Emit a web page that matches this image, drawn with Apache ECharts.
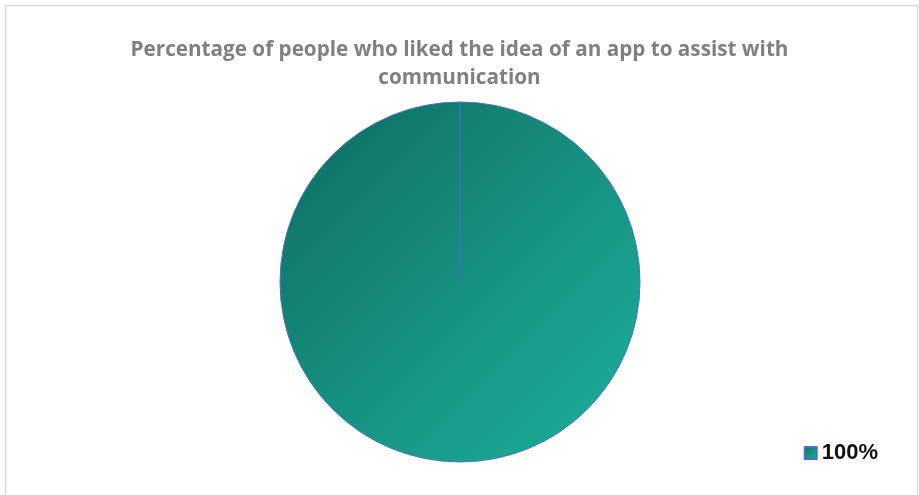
<!DOCTYPE html>
<html>
<head>
<meta charset="utf-8">
<script src="https://cdn.jsdelivr.net/npm/echarts@6/dist/echarts.min.js"></script>
<style>
html,body{margin:0;padding:0;background:#fff;}
#chart{width:919px;height:495px;}
</style>
</head>
<body>
<div id="chart"></div>
<script>
var titleText = 'Percentage of people who liked the idea of an app to assist with\ncommunication'
var categories = ['100%']
var values = [100]

var center = [460, 282]
var radius = 180

var chart = echarts.init(document.getElementById('chart'))
var option = {
    animation: false,
    title: {
        text: titleText,
        left: 'center',
        top: 31,
        textStyle: {
            color: '#808080',
            fontFamily: 'Open Sans',
            fontSize: 20.7,
            fontWeight: 'bold',
            lineHeight: 28
        }
    },
    legend: {
        data: categories,
        icon: 'rect',
        right: 36,
        top: 437,
        itemWidth: 12,
        itemHeight: 12,
        itemGap: 8,
        textStyle: {
            color: '#111',
            fontFamily: 'Liberation Sans',
            fontSize: 22,
            fontWeight: 'bold'
        }
    },
    graphic: [
        {
            type: 'rect',
            shape: {x: 5.5, y: 5.5, width: 912, height: 500},
            style: {fill: 'none', stroke: '#d9d9d9', lineWidth: 1.5},
            silent: true
        },
        {
            // slice edge from the centre to the top
            type: 'line',
            shape: {x1: center[0], y1: center[1], x2: center[0], y2: center[1] - radius},
            style: {stroke: '#3f6fc0', lineWidth: 1.5},
            z: 10
        }
    ],
    series: [
        {
            type: 'pie',
            center: center,
            radius: radius,
            startAngle: 90,
            label: {show: false},
            labelLine: {show: false},
            itemStyle: {
                borderColor: '#4472c4',
                borderWidth: 1,
                color: new echarts.graphic.LinearGradient(0, 0, 1, 1, [
                    {offset: 0, color: '#0d6c5e'},
                    {offset: 0.5, color: '#17907f'},
                    {offset: 1, color: '#1cb19c'}
                ])
            },
            data: categories.map(function (c, i) {
                return {name: c, value: values[i]}
            })
        }
    ]
}
chart.setOption(option)
</script>
</body>
</html>
